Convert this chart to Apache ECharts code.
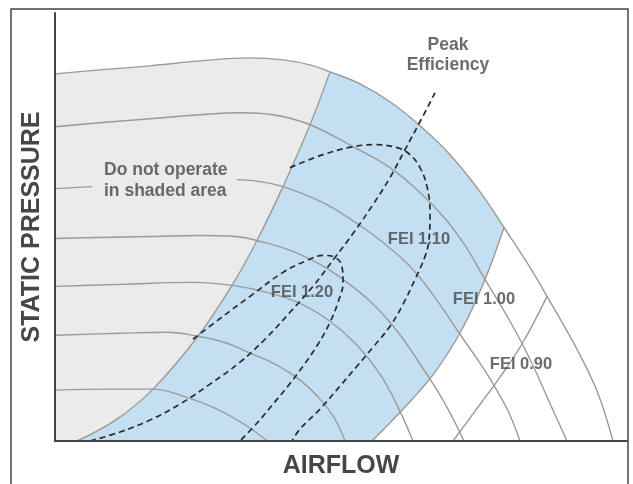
<!DOCTYPE html>
<html><head><meta charset="utf-8">
<script src="https://cdn.jsdelivr.net/npm/echarts@6/dist/echarts.min.js"></script>
<style>html,body{margin:0;padding:0;background:#fff}#c{width:633px;height:484px}</style>
</head><body><div id="c"></div>
<script>
// Airflow (x) / static pressure (y) in arbitrary chart units
const fanCurve1 = [[0,368],[45,372],[95,376],[145,381],[195,384],[228,382],[255,377],[275,370],[305,358],[335,340],[365,316],[395,287],[425,250],[449,214],[475,174],[492,145],[507,119],[522,92],[542,50],[558,0]];
const fanCurve2 = [[0,315],[45,319],[95,323],[145,327],[185,329],[218,327],[255,317],[298,295],[335,274],[365,249],[390,223],[410,196],[430,162],[455,120],[475,82],[493,42],[512,0]];
const fanCurve3 = [[0,253],[37,255],null,[182,262],[205,260],[228,255],[268,239],[302,218],[328,199],[355,175],[377,148],[405,107],[425,78],[440,54],[454,28],[465,0]];
const fanCurve4 = [[0,203],[45,204],[95,205],[145,206],[180,205],[202,201],[245,187],[292,159],[335,119],[375,62],[393,32],[409,0]];
const fanCurve5 = [[0,155],[65,157],[138,159],[177,156],[212,149],[245,138],[275,120],[302,96],[325,67],[343,34],[358,0]];
const fanCurve6 = [[0,106],[65,108],[112,109],[143,105],[172,98],[195,88],[220,77],[245,61],[265,42],[280,22],[290,0]];
const fanCurve7 = [[0,51],[55,52],[98,52],[128,45],[162,32],[192,15],[212,0]];
const shadedBoundary = [[22,0],[62,22],[98,52],[143,105],[177,156],[202,201],[228,255],[255,317],[275,370]];
const blueEdge = [[317,0],[350,34],[380,69],[407,112],[430,162],[449,214]];
const fei090Line = [[398,0],[420,30],[445,64],[468,99],[492,145]];
const peakEfficiency = [[35,0],[65,9],[95,21],[125,37],[155,57],[185,79],[210,102],[235,129],[258,155],[280,184],[298,208],[318,237],[335,264],[350,292],[365,320],[380,349]];
const fei120Loop = [[138,102],[168,125],[195,145],[228,169],[252,181],[268,186],[280,184],[287,175],[288,159],[283,139],[275,119],[263,97],[248,75],[233,55],[218,37],[203,19],[185,0]];
const fei110Loop = [[235,274],[268,287],[298,295],[320,297],[342,294],[355,287],[365,274],[372,255],[375,229],[374,202],[370,185],[360,162],[348,137],[335,115],[318,94],[302,75],[285,55],[265,32],[245,12],[237,0]];
const labelTexts = ['Peak\nEfficiency','Do not operate\nin shaded area','FEI 1.10','FEI 1.20','FEI 1.00','FEI 0.90'];
const labelAnchors = [[393,387],[49,260.5],[364,202],[247,149],[429,142],[466,77]];
const axisNames = {x:'AIRFLOW', y:'STATIC PRESSURE'};

const shadedX = 275, blueX = 449;
const GRAY = '#ebebeb', BLUE = '#c5dff2', CURVE = '#9a9a9a', DASH = '#2a2a2a', TXT = '#474749';
const FONT = 'Liberation Sans, Arial, sans-serif';

function segments(arr){const out=[];let cur=[];arr.forEach(p=>{if(p===null){if(cur.length)out.push(cur);cur=[];}else cur.push(p);});if(cur.length)out.push(cur);return out;}
function area(data,color){return {type:'line',data,smooth:0.4,symbol:'none',silent:true,z:1,lineStyle:{width:0},areaStyle:{color,opacity:1,origin:'start'}};}
function curve(data,z,style){return {type:'line',data,smooth:0.4,symbol:'none',silent:true,z,lineStyle:style};}

const series = [];
series.push(area(fanCurve1.filter(p=>p[0]<=shadedX),GRAY));
series.push(area(shadedBoundary,BLUE));
series.push(area(fanCurve1.filter(p=>p[0]>=shadedX&&p[0]<=blueX),BLUE));
series.push(area(blueEdge,'#ffffff'));
const solid = {color:CURVE,width:1.4};
[fanCurve1,fanCurve2,fanCurve3,fanCurve4,fanCurve5,fanCurve6,fanCurve7,shadedBoundary,blueEdge,fei090Line].forEach(c=>{
  segments(c).forEach(s=>series.push(curve(s,3,solid)));
});
const dashed = {color:DASH,width:1.7,type:[6,4]};
[peakEfficiency,fei120Loop,fei110Loop].forEach(c=>series.push(curve(c,4,dashed)));
const labelSeries = {type:'scatter',symbolSize:0,silent:true,z:6,
  data:labelAnchors.map((p,i)=>({value:p,label:{formatter:labelTexts[i],align:i===1?'left':'center'}})),
  label:{show:true,position:'inside',color:TXT,fontFamily:FONT,fontWeight:'bold',fontSize:16.5,lineHeight:20}
};
labelSeries.data[0].label.fontSize=17.5;
labelSeries.data[1].label.fontSize=17.5;
labelSeries.data[1].label.lineHeight=21;
series.push(labelSeries);

const nameStyle = {color:TXT,fontFamily:FONT,fontWeight:'bold',fontSize:25};
const chart = echarts.init(document.getElementById('c'));
chart.setOption({
  animation:false,
  grid:{left:55,right:6,top:13,bottom:42},
  xAxis:{type:'value',min:0,max:572,z:10,axisLine:{show:true,onZero:false,lineStyle:{color:'#444',width:2}},axisTick:{show:false},axisLabel:{show:false},splitLine:{show:false},
    name:axisNames.x,nameLocation:'middle',nameGap:13,nameTextStyle:nameStyle},
  yAxis:{type:'value',min:0,max:429,z:10,axisLine:{show:true,onZero:false,lineStyle:{color:'#444',width:2}},axisTick:{show:false},axisLabel:{show:false},splitLine:{show:false},
    name:axisNames.y,nameLocation:'middle',nameGap:10,nameRotate:90,nameTextStyle:nameStyle},
  graphic:[{type:'rect',shape:{x:11,y:9,width:617,height:490},style:{fill:'none',stroke:'#444',lineWidth:1.5},z:20,silent:true}],
  series
});
</script></body></html>
